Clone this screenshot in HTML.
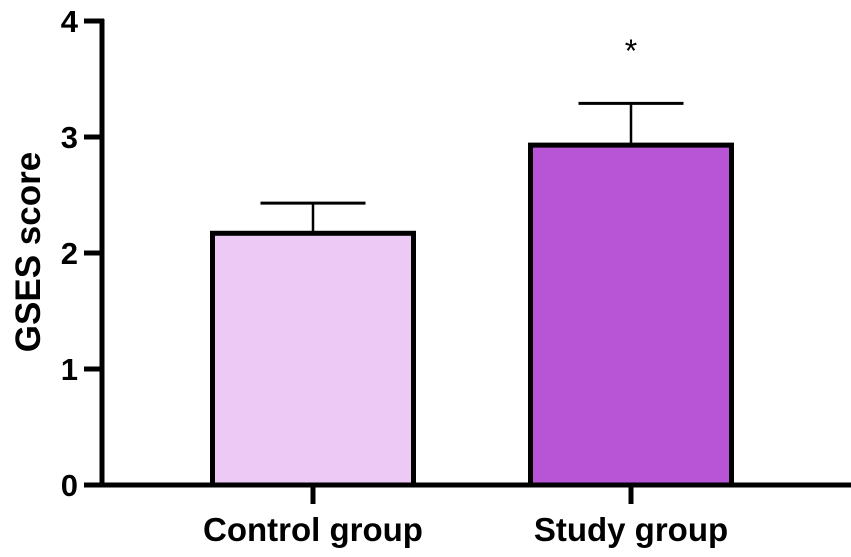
<!DOCTYPE html>
<html><head><meta charset="utf-8"><style>
html,body{margin:0;padding:0;background:#fff}
svg{display:block;font-family:"Liberation Sans",Arial,sans-serif}
</style></head><body>
<svg id="chart" width="851" height="557" viewBox="0 0 851 557"></svg>
<script>
const categories = ["Control group", "Study group"];
const meanValues = [2.17, 2.93];
const errorValues = [0.26, 0.36];
const significance = ["", "*"];
const yTicks = [0, 1, 2, 3, 4];
const fills = ["#edc9f5", "#b855d6"];

const NS = "http://www.w3.org/2000/svg";
const svg = document.getElementById("chart");
const y0 = 485, pxPerUnit = 116;
const yScale = v => y0 - v * pxPerUnit;
const xCenter = i => 313 + i * 318;
const barW = 206, capW = 105;
function mk(tag, attrs, parent) {
  const e = document.createElementNS(NS, tag);
  for (const k in attrs) e.setAttribute(k, attrs[k]);
  (parent || svg).appendChild(e);
  return e;
}
categories.forEach((c, i) => {
  const cx = xCenter(i);
  const top = yScale(meanValues[i]), upper = yScale(meanValues[i] + errorValues[i]);
  const eb = mk("line", {x1: cx, x2: cx, y1: top, y2: upper, stroke: "#000", "stroke-width": 2.5});
  
  
  const cap = mk("line", {x1: cx - capW / 2, x2: cx + capW / 2, y1: upper, y2: upper, stroke: "#000", "stroke-width": 3});
  
  
  const r = mk("rect", {x: cx - barW / 2 + 2.5, y: top, width: barW - 5, height: y0 - top, fill: fills[i], stroke: "#000", "stroke-width": 5});
  
  
  if (significance[i]) {
    const s = mk("text", {x: cx, y: 62, "text-anchor": "middle", "font-size": 32, fill: "#000"});
    s.textContent = significance[i];
    
    
  }
  const tk = mk("line", {x1: cx, x2: cx, y1: y0, y2: y0 + 19, stroke: "#000", "stroke-width": 5});
  
  
  const lb = mk("text", {x: cx, y: 541, "text-anchor": "middle", "font-size": 33, "font-weight": "bold", fill: "#000"});
  lb.textContent = c;
  
  
});
const ya = mk("line", {x1: 102, x2: 102, y1: 19, y2: y0 + 2.5, stroke: "#000", "stroke-width": 5});


const xa = mk("line", {x1: 100, x2: 851, y1: y0, y2: y0, stroke: "#000", "stroke-width": 5});


yTicks.forEach(t => {
  const y = yScale(t);
  const tl = mk("line", {x1: 84, x2: 104, y1: y, y2: y, stroke: "#000", "stroke-width": 5});
  
  
  const tx = mk("text", {x: 78, y: y + 11, "text-anchor": "end", "font-size": 31, "font-weight": "bold", fill: "#000"});
  tx.textContent = t;
  
  
});
const yt = mk("text", {x: 0, y: 0, transform: "translate(40,252) rotate(-90)", "text-anchor": "middle", "font-size": 35, "font-weight": "bold", fill: "#000"});
yt.textContent = "GSES score";


</script>
</body></html>
